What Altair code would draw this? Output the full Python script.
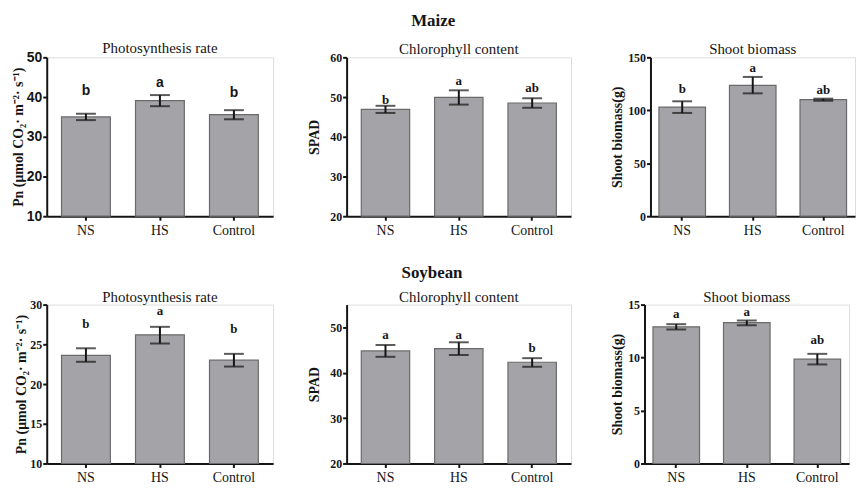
import altair as alt
import pandas as pd

treatments = ["NS", "HS", "Control"]

# ---- Maize ----
maize_pn_mean = [35.0, 39.1, 35.6]
maize_pn_low = [34.2, 37.7, 34.4]
maize_pn_high = [35.8, 40.5, 36.7]
maize_pn_letters = ["b", "a", "b"]
maize_pn_letter_pos = [41.4, 43.5, 41.0]

maize_spad_mean = [46.9, 49.9, 48.5]
maize_spad_low = [46.0, 48.1, 47.3]
maize_spad_high = [47.8, 51.7, 49.7]
maize_spad_letters = ["b", "a", "ab"]
maize_spad_letter_pos = [49.2, 54.1, 52.3]

maize_bio_mean = [103.0, 123.5, 110.0]
maize_bio_low = [97.5, 116.0, 109.0]
maize_bio_high = [108.5, 131.5, 111.0]
maize_bio_letters = ["b", "a", "ab"]
maize_bio_letter_pos = [119.8, 139.7, 118.9]

# ---- Soybean ----
soy_pn_mean = [23.6, 26.2, 23.0]
soy_pn_low = [22.8, 25.1, 22.2]
soy_pn_high = [24.5, 27.2, 23.8]
soy_pn_letters = ["b", "a", "b"]
soy_pn_letter_pos = [27.5, 29.2, 26.9]

soy_spad_mean = [44.8, 45.3, 42.3]
soy_spad_low = [43.5, 43.9, 41.3]
soy_spad_high = [46.1, 46.7, 43.2]
soy_spad_letters = ["a", "a", "b"]
soy_spad_letter_pos = [48.3, 48.3, 45.4]

soy_bio_mean = [12.9, 13.3, 9.85]
soy_bio_low = [12.65, 13.05, 9.35]
soy_bio_high = [13.15, 13.5, 10.35]
soy_bio_letters = ["a", "a", "ab"]
soy_bio_letter_pos = [14.15, 14.3, 11.7]

PN_TITLE = "Pn (\u03bcmol CO\u2082\u00b7 m\u207b\u00b2\u00b7 s\u207b\u00b9)"

SERIF = "Liberation Serif"
SANS = "Liberation Sans"
BAR_FILL = "#a4a4a8"
BAR_STROKE = "#6a6a6a"
INK = "#151515"


def panel(mean, low, high, letters, letter_pos, domain, ticks, title, ytitle,
          width, height, tick_font, letter_font, tick_size=12, letter_size=13,
          pad_outer=0.2, title_pad=4, title_offset=-6):
    df = pd.DataFrame({
        "treatment": treatments,
        "mean": mean,
        "low": low,
        "high": high,
        "letter": letters,
        "letter_pos": letter_pos,
    })
    x = alt.X("treatment:N", sort=treatments,
              scale=alt.Scale(paddingInner=0.34, paddingOuter=pad_outer),
              axis=alt.Axis(title=None, labelAngle=0, labelFont=SERIF,
                            labelFontSize=14, labelColor=INK, labelPadding=3,
                            tickSize=4, tickWidth=2, tickColor=INK,
                            domainColor=INK, domainWidth=2))
    xn = alt.X("treatment:N", sort=treatments)
    yscale = alt.Scale(domain=domain, zero=False, nice=False)
    y = alt.Y("mean:Q", scale=yscale,
              axis=alt.Axis(title=ytitle, values=ticks, tickCount=20,
                            grid=False, labelOverlap=False,
                            labelFont=tick_font, labelFontSize=tick_size,
                            labelFontWeight="bold", labelColor=INK,
                            labelPadding=1, tickSize=4, tickWidth=2,
                            tickColor=INK, domainColor=INK, domainWidth=2,
                            titleFont=SERIF, titleFontSize=14,
                            titleFontWeight="bold", titleColor=INK,
                            titlePadding=title_pad))
    base = alt.Chart(df)
    bars = base.mark_bar(color=BAR_FILL, stroke=BAR_STROKE,
                         strokeWidth=1.2).encode(
        x=x, y=y, y2=alt.Y2(datum=domain[0]))
    rule = base.mark_rule(color=INK, strokeWidth=2).encode(
        x=xn, y=alt.Y("low:Q", scale=yscale), y2="high:Q")
    cap_lo = base.mark_tick(color=INK, size=20, thickness=2).encode(
        x=xn, y=alt.Y("low:Q", scale=yscale))
    cap_hi = base.mark_tick(color=INK, size=20, thickness=2).encode(
        x=xn, y=alt.Y("high:Q", scale=yscale))
    text = base.mark_text(font=letter_font, fontSize=letter_size,
                          fontWeight="bold", color=INK,
                          baseline="middle").encode(
        x=xn, y=alt.Y("letter_pos:Q", scale=yscale),
        text="letter:N")
    return alt.layer(bars, rule, cap_lo, cap_hi, text).properties(
        width=width, height=height,
        title=alt.TitleParams(title, font=SERIF, fontSize=15,
                              fontWeight="normal", color=INK,
                              offset=title_offset, anchor="middle"))


H = 160
row1 = alt.hconcat(
    alt.hconcat(
        panel(maize_pn_mean, maize_pn_low, maize_pn_high, maize_pn_letters,
              maize_pn_letter_pos, [10, 50], [10, 20, 30, 40, 50],
              "Photosynthesis rate", PN_TITLE, 228, H, SANS, SANS,
              tick_size=14, letter_size=14, title_pad=1),
        panel(maize_spad_mean, maize_spad_low, maize_spad_high,
              maize_spad_letters, maize_spad_letter_pos, [20, 60],
              [20, 30, 40, 50, 60], "Chlorophyll content", "SPAD", 226, H,
              SERIF, SERIF, title_pad=8),
        spacing=33),
    panel(maize_bio_mean, maize_bio_low, maize_bio_high, maize_bio_letters,
          maize_bio_letter_pos, [0, 150], [0, 50, 100, 150],
          "Shoot biomass", "Shoot biomass(g)", 206, H, SERIF, SERIF,
          pad_outer=0.12, title_pad=3),
    spacing=38,
).properties(title=alt.TitleParams("Maize", font=SERIF, fontSize=17,
                                   fontWeight="bold", color=INK,
                                   anchor="middle", offset=11))

row2 = alt.hconcat(
    alt.hconcat(
        panel(soy_pn_mean, soy_pn_low, soy_pn_high, soy_pn_letters,
              soy_pn_letter_pos, [10, 30], [10, 15, 20, 25, 30],
              "Photosynthesis rate", PN_TITLE, 228, H, SERIF, SERIF,
              title_pad=1),
        panel(soy_spad_mean, soy_spad_low, soy_spad_high, soy_spad_letters,
              soy_spad_letter_pos, [20, 55], [20, 30, 40, 50],
              "Chlorophyll content", "SPAD", 226, H, SERIF, SERIF,
              title_pad=8, title_offset=0),
        spacing=33),
    panel(soy_bio_mean, soy_bio_low, soy_bio_high, soy_bio_letters,
          soy_bio_letter_pos, [0, 15], [0, 5, 10, 15],
          "Shoot biomass", "Shoot biomass(g)", 206, H, SERIF, SERIF,
          pad_outer=0.12, title_pad=3),
    spacing=38,
).properties(title=alt.TitleParams("Soybean", font=SERIF, fontSize=17,
                                   fontWeight="bold", color=INK,
                                   anchor="middle", offset=7))

chart = alt.vconcat(row1, row2, spacing=26).properties(
    padding={"left": 2, "top": 2, "right": 2, "bottom": 0}
).configure_view(stroke=None).configure(background="white")

chart.save("out.html", embed_options={"renderer": "svg", "actions": False})
